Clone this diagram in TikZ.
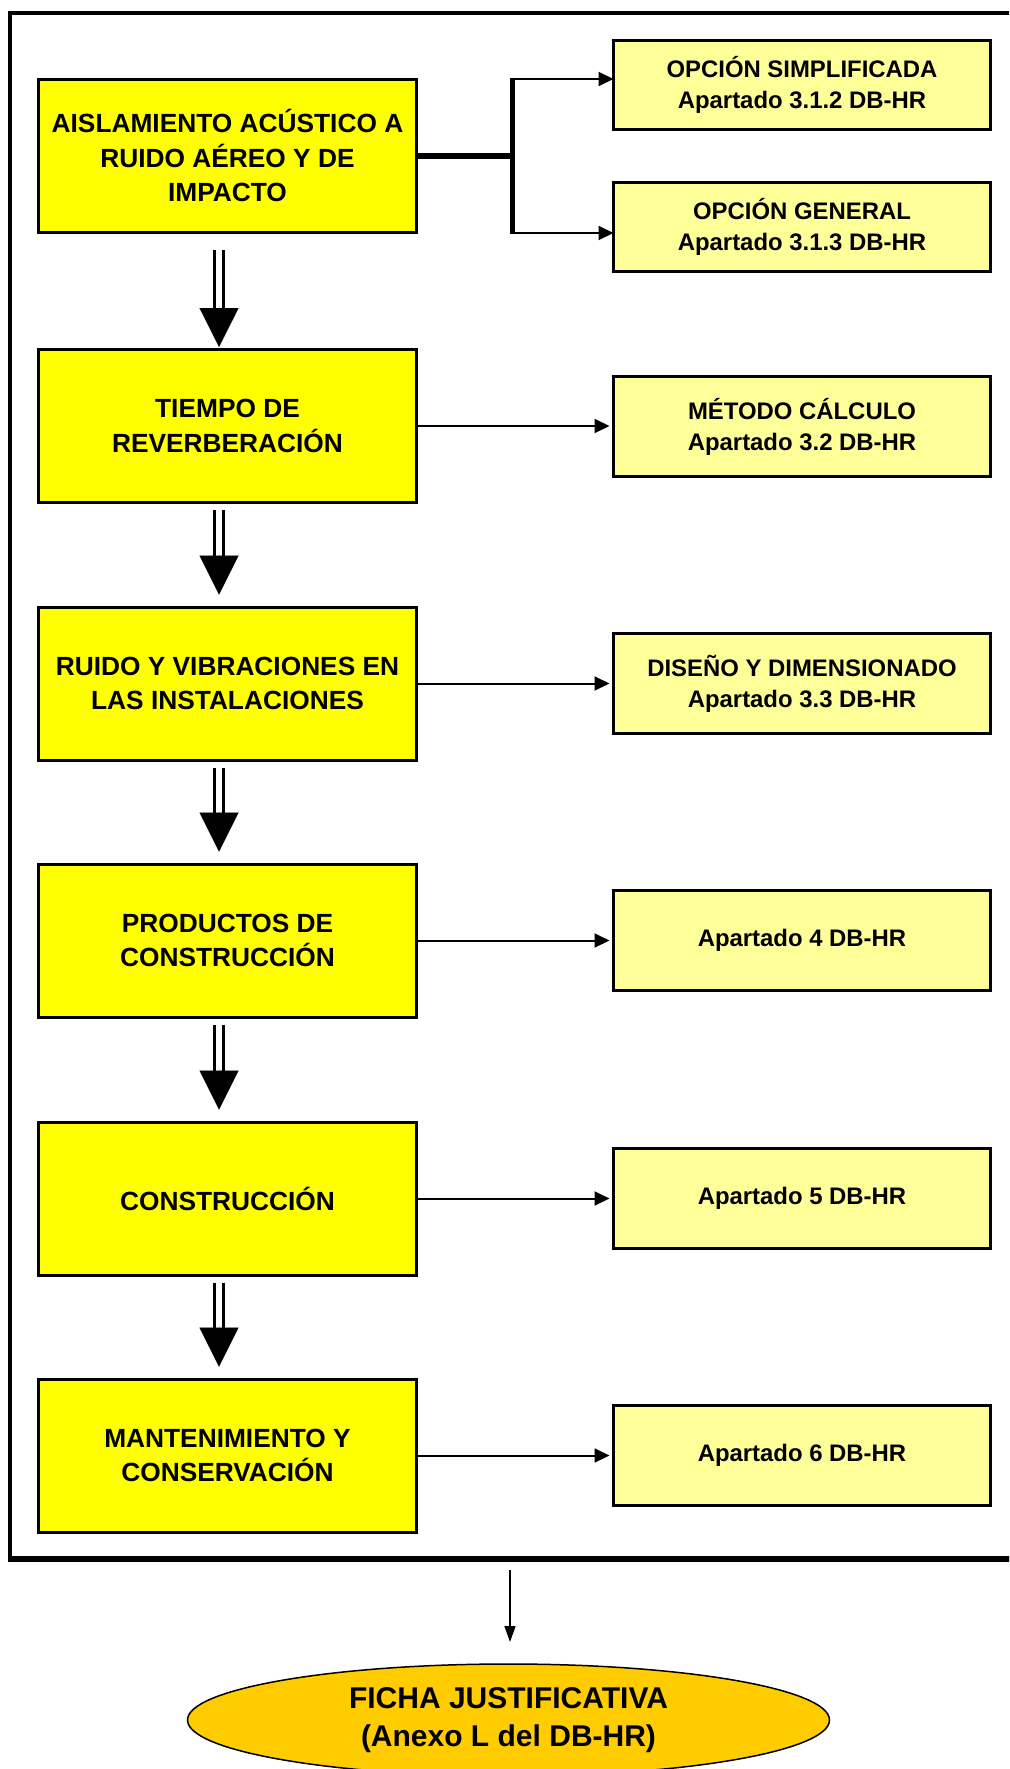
\documentclass[tikz,border=0pt]{standalone}
\usepackage{fontspec}
\setmainfont{Liberation Sans}
\usetikzlibrary{arrows.meta,calc,shapes.geometric}
\definecolor{boxyellow}{HTML}{FFFF00}
\definecolor{lightyellow}{HTML}{FFFF99}
\definecolor{fichaorange}{HTML}{FFCC00}
\newcommand\dblarr[4]{%
  \draw[dbl] ($(#1.south)+(-8.5,#2)$) -- ($(#3.north)+(-8.5,#4-38)$);
  \draw[tiparr] ($(#3.north)+(-8.5,#4-41)$) -- ($(#3.north)+(-8.5,#4)$);
}
\begin{document}
\begin{tikzpicture}[x=1pt,y=-1pt,
  mainbox/.style={draw, line width=3pt, fill=boxyellow, minimum width=378pt, minimum height=153pt,
    inner sep=0pt, outer sep=0pt, align=center, font=\fontsize{26.3}{34.5}\selectfont\bfseries},
  refbox/.style={draw, line width=3pt, fill=lightyellow, minimum width=377pt, minimum height=100pt,
    inner sep=0pt, outer sep=0pt, align=center, font=\fontsize{23.9}{31}\selectfont\bfseries},
  arr/.style={line width=2pt, -{Triangle[length=15pt,width=14pt]}},
  dbl/.style={double, double distance=5.7pt, line width=3.3pt},
  tiparr/.style={line width=0.01pt, -{Triangle[length=39pt,width=39pt]}},
  ficha/.style={ellipse, draw, line width=1.5pt, fill=fichaorange, minimum width=642pt, minimum height=112pt,
    inner sep=0pt, outer sep=0pt, align=center, font=\fontsize{30}{38}\selectfont\bfseries}
]
\useasboundingbox (0,0) rectangle (1009,1769);
\clip (0,0) rectangle (1009,1769);
\fill[white] (0,0) rectangle (1009,1769);

% outer frame (right side lies beyond the picture)
\draw[line width=4.5pt] (1040,13) -- (10,13) -- (10,1559) -- (1040,1559);
\draw[line width=6.5pt] (8,1559) -- (1040,1559);

% main boxes
\node[mainbox] (L1) at (227.5,155.5) {AISLAMIENTO ACÚSTICO A\\RUIDO AÉREO Y DE\\IMPACTO};
\node[mainbox] (L2) at (227.5,426) {TIEMPO DE\\REVERBERACIÓN};
\node[mainbox] (L3) at (227.5,683.5) {RUIDO Y VIBRACIONES EN\\LAS INSTALACIONES};
\node[mainbox] (L4) at (227.5,940.5) {PRODUCTOS DE\\CONSTRUCCIÓN};
\node[mainbox] (L5) at (227.5,1198.5) {CONSTRUCCIÓN};
\node[mainbox] (L6) at (227.5,1455.5) {MANTENIMIENTO Y\\CONSERVACIÓN};

% reference boxes
\node[refbox, minimum height=89pt] (R1) at (802,85) {OPCIÓN SIMPLIFICADA\\Apartado 3.1.2 DB-HR};
\node[refbox, minimum height=89pt] (R2) at (802,227) {OPCIÓN GENERAL\\Apartado 3.1.3 DB-HR};
\node[refbox] (R3) at (802,426.5) {MÉTODO CÁLCULO\\Apartado 3.2 DB-HR};
\node[refbox] (R4) at (802,683.5) {DISEÑO Y DIMENSIONADO\\Apartado 3.3 DB-HR};
\node[refbox] (R5) at (802,940.5) {Apartado 4 DB-HR};
\node[refbox] (R6) at (802,1198) {Apartado 5 DB-HR};
\node[refbox] (R7) at (802,1455) {Apartado 6 DB-HR};

% final sheet
\node[ficha] (E) at (508.5,1720) {FICHA JUSTIFICATIVA\\(Anexo L del DB-HR)};

% branch from first box
\coordinate (J) at ($(L1.east)+(96,0)$);
\coordinate (Jt) at ($(J)+(0,-76.5)$);
\coordinate (Jb) at ($(J)+(0,77.5)$);
\draw[line width=6pt] (L1.east) -- (J);
\draw[line width=5pt] ($(Jt)+(0,-1)$) -- ($(Jb)+(0,1)$);
\draw[arr] (Jt) -- (Jt -| R1.west);
\draw[arr] (Jb) -- (Jb -| R2.west);

% horizontal arrows
\draw[arr, shorten >=4pt] (L2.east) -- (L2.east -| R3.west);
\draw[arr, shorten >=4pt] (L3.east) -- (L3.east -| R4.west);
\draw[arr, shorten >=4pt] (L4.east) -- (L4.east -| R5.west);
\draw[arr, shorten >=4pt] (L5.east) -- (L5.east -| R6.west);
\draw[arr, shorten >=4pt] (L6.east) -- (L6.east -| R7.west);

% double arrows between main boxes
\dblarr{L1}{18}{L2}{-2.5}
\dblarr{L2}{7.5}{L3}{-12.5}
\dblarr{L3}{7.5}{L4}{-12.5}
\dblarr{L4}{7.5}{L5}{-12.5}
\dblarr{L5}{7.5}{L6}{-12.5}

% arrow to the justification sheet
\coordinate (out) at (510,1570);
\draw[line width=1.6pt, -{Triangle[length=16pt,width=11pt]}, shorten >=22pt] (out) -- (out |- E.north);
\end{tikzpicture}
\end{document}
